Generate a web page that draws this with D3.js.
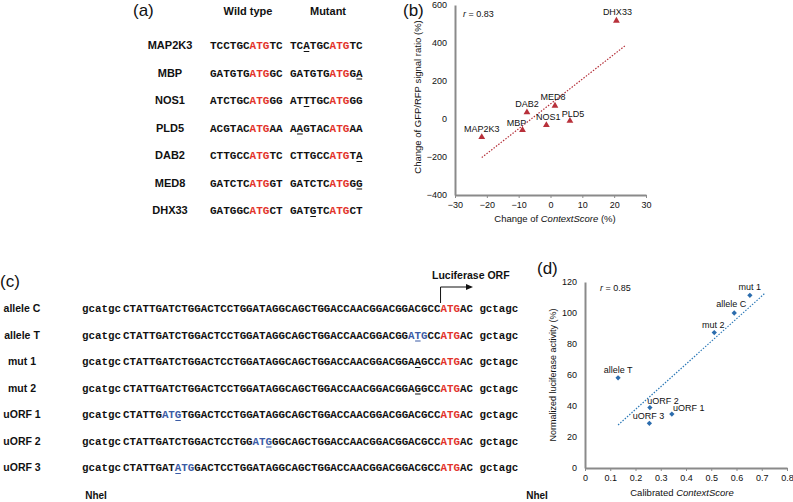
<!DOCTYPE html>
<html>
<head>
<meta charset="utf-8">
<title>ContextScore figure</title>
<script src="https://cdn.jsdelivr.net/npm/d3@7"></script>
<style>
  body { margin: 0; background: #fff; }
  text { font-family: "Liberation Sans", Arial, Helvetica, sans-serif; fill: #111; }
  .seq { font-family: "Liberation Mono", "Courier New", monospace; font-weight: bold; }
  .axis path, .axis line { stroke: #8a8a8a; }
  .axis path { stroke-width: 2; }
  .axis text { font-size: 9px; fill: #111; }
</style>
</head>
<body>
<svg width="793" height="502"></svg>
<script>
// ---- panel (a) ----
var genes = ["MAP2K3", "MBP", "NOS1", "PLD5", "DAB2", "MED8", "DHX33"];
var wildSeq = ["TCCTGCATGTC", "GATGTGATGGC", "ATCTGCATGGG", "ACGTACATGAA", "CTTGCCATGTC", "GATCTCATGGT", "GATGGCATGCT"];
var mutSeq = ["TCATGCATGTC", "GATGTGATGGA", "ATTTGCATGGG", "AAGTACATGAA", "CTTGCCATGTA", "GATCTCATGGG", "GATGTCATGCT"];
var mutSite = [2, 10, 2, 1, 10, 10, 3];
// ---- panel (b) ----
var ctxChange = [-21.6, -8.8, -1.3, 6.1, -7.4, 1.4, 20.7];
var gfpChange = [-95, -58, -32, -10, 35, 70, 517];
var fitB = [[-21.6, -203], [23.7, 389]];
var xTicksB = [-30, -20, -10, 0, 10, 20, 30];
var yTicksB = [-400, -200, 0, 200, 400, 600];
// ---- panel (c) ----
var alleles = ["allele C", "allele T", "mut 1", "mut 2", "uORF 1", "uORF 2", "uORF 3"];
var alleleSeq = [
  "CTATTGATCTGGACTCCTGGATAGGCAGCTGGACCAACGGACGGACGCCATGAC",
  "CTATTGATCTGGACTCCTGGATAGGCAGCTGGACCAACGGACGGATGCCATGAC",
  "CTATTGATCTGGACTCCTGGATAGGCAGCTGGACCAACGGACGGAAGCCATGAC",
  "CTATTGATCTGGACTCCTGGATAGGCAGCTGGACCAACGGACGGAGGCCATGAC",
  "CTATTGATGTGGACTCCTGGATAGGCAGCTGGACCAACGGACGGACGCCATGAC",
  "CTATTGATCTGGACTCCTGGATGGGCAGCTGGACCAACGGACGGACGCCATGAC",
  "CTATTGATATGGACTCCTGGATAGGCAGCTGGACCAACGGACGGACGCCATGAC"
];
var uatgStart = [-1, 44, -1, -1, 6, 20, 8];
var alleleSite = [-1, 45, 45, 45, 8, 22, 8];
var mainAtg = 49;
// ---- panel (d) ----
var score = [0.591, 0.131, 0.653, 0.512, 0.344, 0.257, 0.255];
var activity = [100, 58.2, 111.4, 87.4, 34.8, 39, 28.8];
var fitD = [[0.131, 27.7], [0.711, 112.5]];
var xTicksD = [0, 0.1, 0.2, 0.3, 0.4, 0.5, 0.6, 0.7, 0.8];
var yTicksD = [0, 20, 40, 60, 80, 100, 120];

var red = "#e2332b", blue = "#3b5ba5";
var svg = d3.select("svg");

// draws one sequence as a monospace text with coloured runs, returns char width
function drawSeq(g, x, y, seq, size, colorAt, underline) {
  var t = g.append("text").attr("class", "seq").attr("x", x).attr("y", y)
    .style("font-size", size + "px");
  var runs = [];
  for (var i = 0; i < seq.length; i++) {
    var c = colorAt(i);
    if (runs.length && runs[runs.length - 1].c === c) runs[runs.length - 1].s += seq[i];
    else runs.push({ c: c, s: seq[i] });
  }
  runs.forEach(function (r) { t.append("tspan").style("fill", r.c).text(r.s); });
  var cw = t.node().getComputedTextLength() / seq.length;
  if (underline >= 0) {
    g.append("line")
      .attr("x1", x + underline * cw + 0.5).attr("x2", x + (underline + 1) * cw - 0.5)
      .attr("y1", y + 2.5).attr("y2", y + 2.5)
      .attr("stroke", colorAt(underline)).attr("stroke-width", 1);
  }
  return cw;
}

// ================= (a) =================
var ga = svg.append("g");
var yA = d3.scalePoint().domain(genes).range([45, 210]);
ga.append("text").attr("x", 133).attr("y", 16).style("font-size", "17px").text("(a)");
ga.append("text").attr("x", 248).attr("y", 15).attr("text-anchor", "middle")
  .style("font-size", "11px").style("font-weight", "bold").text("Wild type");
ga.append("text").attr("x", 328).attr("y", 15).attr("text-anchor", "middle")
  .style("font-size", "11px").style("font-weight", "bold").text("Mutant");
genes.forEach(function (gname, i) {
  var y = yA(gname) + 4;
  ga.append("text").attr("x", 170).attr("y", y).attr("text-anchor", "middle")
    .style("font-size", "11px").style("font-weight", "bold").text(gname);
  var atgA = function (k) { return (k >= 6 && k <= 8) ? red : "#111"; };
  drawSeq(ga, 210, y, wildSeq[i], 11, atgA, -1);
  drawSeq(ga, 290, y, mutSeq[i], 11, atgA, mutSite[i]);
});

// ================= (b) =================
var gb = svg.append("g");
var xB = d3.scaleLinear().domain([-30, 30]).range([455, 646]);
var yB = d3.scaleLinear().domain([-400, 600]).range([195, 5]);
gb.append("text").attr("x", 403).attr("y", 16).style("font-size", "17px").text("(b)");
gb.append("g").attr("class", "axis").attr("transform", "translate(0,195)")
  .call(d3.axisBottom(xB).tickValues(xTicksB).tickSize(3).tickSizeOuter(0).tickPadding(4));
gb.append("g").attr("class", "axis").attr("transform", "translate(455,0)")
  .call(d3.axisLeft(yB).tickValues(yTicksB).tickSize(0).tickPadding(8));
gb.append("text").attr("transform", "translate(421,97) rotate(-90)").attr("text-anchor", "middle")
  .style("font-size", "9.5px").text("Change of GFP/RFP signal ratio (%)");
var xlb = gb.append("text").attr("x", 555).attr("y", 222).attr("text-anchor", "middle").style("font-size", "9.5px");
xlb.append("tspan").text("Change of ");
xlb.append("tspan").style("font-style", "italic").text("ContextScore");
xlb.append("tspan").text(" (%)");
var rb = gb.append("text").attr("x", 463).attr("y", 17).style("font-size", "9px");
rb.append("tspan").style("font-style", "italic").text("r");
rb.append("tspan").text(" = 0.83");
gb.append("line")
  .attr("x1", xB(fitB[0][0])).attr("y1", yB(fitB[0][1]))
  .attr("x2", xB(fitB[1][0])).attr("y2", yB(fitB[1][1]))
  .attr("stroke", "#b5303a").attr("stroke-width", 1.2).attr("stroke-dasharray", "1.5,1.5");
var labOffB = [[0, -8], [-6, -7], [2, -8], [3, -7], [0, -8], [-2, -9], [1, -9]];
genes.forEach(function (gname, i) {
  var px = xB(ctxChange[i]), py = yB(gfpChange[i]);
  gb.append("path").attr("d", d3.symbol(d3.symbolTriangle, 20)())
    .attr("transform", "translate(" + px + "," + py + ")").attr("fill", "#b8303a");
  gb.append("text").attr("x", px + labOffB[i][0]).attr("y", py + labOffB[i][1] + 3)
    .attr("text-anchor", "middle").style("font-size", "9px").text(gname);
});

// ================= (c) =================
var gc = svg.append("g");
var yC = d3.scalePoint().domain(alleles).range([308, 467]);
gc.append("text").attr("x", 0).attr("y", 287).style("font-size", "17px").text("(c)");
var x0 = 123, cwC = 6.5;
alleles.forEach(function (name, i) {
  var y = yC(name) + 4;
  gc.append("text").attr("x", 22).attr("y", y).attr("text-anchor", "middle")
    .style("font-size", "10.5px").style("font-weight", "bold").text(name);
  gc.append("text").attr("class", "seq").attr("x", 82).attr("y", y).style("font-size", "10.8px").text("gcatgc");
  var colC = function (k) {
    if (k >= mainAtg && k < mainAtg + 3) return red;
    if (uatgStart[i] >= 0 && k >= uatgStart[i] && k < uatgStart[i] + 3) return blue;
    return "#111";
  };
  cwC = drawSeq(gc, x0, y, alleleSeq[i], 10.8, colC, alleleSite[i]);
  gc.append("text").attr("class", "seq").attr("x", x0 + (alleleSeq[i].length + 1) * cwC)
    .attr("y", y).style("font-size", "10.8px").text("gctagc");
});
// luciferase arrow from the main ATG
var ax = x0 + mainAtg * cwC;
gc.append("path").attr("d", "M" + ax + "," + (yC(alleles[0]) - 5) + "V287H468")
  .attr("fill", "none").attr("stroke", "#111").attr("stroke-width", 1);
gc.append("path").attr("d", "M473,287L466,284L466,290Z").attr("fill", "#111");
gc.append("text").attr("x", 432).attr("y", 279).style("font-size", "10.5px")
  .style("font-weight", "bold").text("Luciferase ORF");
gc.append("text").attr("x", 96).attr("y", 499).attr("text-anchor", "middle")
  .style("font-size", "10px").style("font-weight", "bold").text("NheI");
gc.append("text").attr("x", 537).attr("y", 499).attr("text-anchor", "middle")
  .style("font-size", "10px").style("font-weight", "bold").text("NheI");

// ================= (d) =================
var gd = svg.append("g");
var xD = d3.scaleLinear().domain([0, 0.8]).range([585, 787]);
var yD = d3.scaleLinear().domain([0, 120]).range([468, 282]);
gd.append("text").attr("x", 537).attr("y", 274).style("font-size", "17px").text("(d)");
gd.append("g").attr("class", "axis").attr("transform", "translate(0,468)")
  .call(d3.axisBottom(xD).tickValues(xTicksD).tickSize(3).tickSizeOuter(0).tickPadding(4)
    .tickFormat(function (d) { return d === 0 ? "0" : d3.format(".1f")(d); }));
gd.append("g").attr("class", "axis").attr("transform", "translate(585,0)")
  .call(d3.axisLeft(yD).tickValues(yTicksD).tickSize(0).tickPadding(8));
gd.append("text").attr("transform", "translate(556,375) rotate(-90)").attr("text-anchor", "middle")
  .style("font-size", "9px").text("Normalized luciferase activity (%)");
var xld = gd.append("text").attr("x", 682).attr("y", 496).attr("text-anchor", "middle").style("font-size", "9.5px");
xld.append("tspan").text("Calibrated ");
xld.append("tspan").style("font-style", "italic").text("ContextScore");
var rd = gd.append("text").attr("x", 600).attr("y", 291).style("font-size", "9px");
rd.append("tspan").style("font-style", "italic").text("r");
rd.append("tspan").text(" = 0.85");
gd.append("line")
  .attr("x1", xD(fitD[0][0])).attr("y1", yD(fitD[0][1]))
  .attr("x2", xD(fitD[1][0])).attr("y2", yD(fitD[1][1]))
  .attr("stroke", "#2e7ab8").attr("stroke-width", 1.2).attr("stroke-dasharray", "1.5,1.5");
var labOffD = [[-3, -9], [0, -8], [0, -8], [-1, -8], [17, -6], [13, -7], [-1, -7]];
alleles.forEach(function (name, i) {
  var px = xD(score[i]), py = yD(activity[i]);
  gd.append("path").attr("d", d3.symbol(d3.symbolSquare, 14)())
    .attr("transform", "translate(" + px + "," + py + ") rotate(45)").attr("fill", "#2b6cad");
  gd.append("text").attr("x", px + labOffD[i][0]).attr("y", py + labOffD[i][1] + 3)
    .attr("text-anchor", "middle").style("font-size", "9px").text(name);
});
</script>
</body>
</html>
